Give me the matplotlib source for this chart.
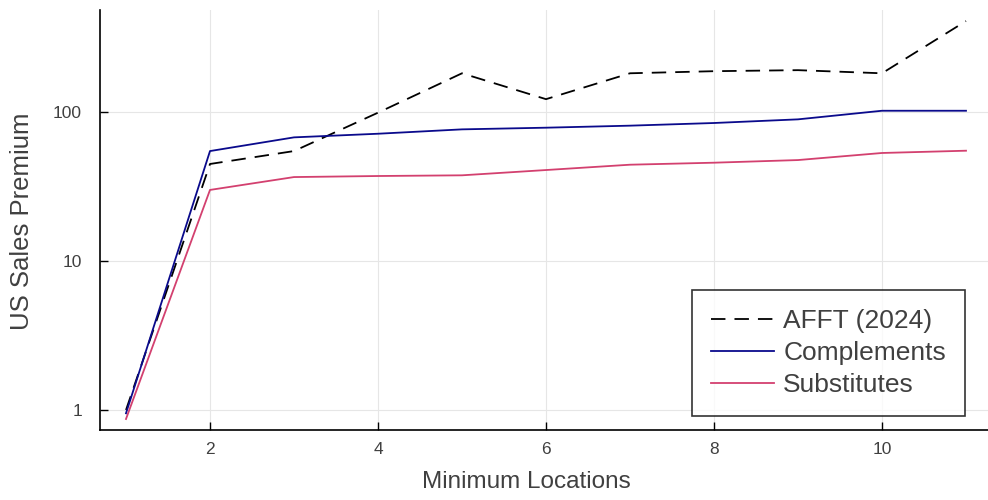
import matplotlib
matplotlib.use("Agg")
import matplotlib.pyplot as plt
from matplotlib.ticker import FixedLocator, NullLocator

plt.rcParams['font.family'] = ['Liberation Sans', 'DejaVu Sans']

locations = [1, 2, 3, 4, 5, 6, 7, 8, 9, 10, 11]
afft = [1.0, 44.8, 54.7, 99, 182, 122, 182, 188, 191, 182, 408]
complements = [0.95, 54.7, 67.6, 71.5, 76.5, 78.5, 81, 84.4, 89.3, 102, 102]
substitutes = [0.87, 30, 36.6, 37.2, 37.6, 40.8, 44.3, 45.7, 47.6, 53.1, 55.0]

ytick_vals = [1, 10, 100]
ytick_labels = ["1", "10", "100"]
xtick_vals = [2, 4, 6, 8, 10]

fig = plt.figure(figsize=(9.88, 5.0), dpi=100)
ax = fig.add_axes([100 / 988, 70 / 500, 888 / 988, 420 / 500])

ax.plot(locations, afft, color='black', linestyle=(0, (8, 5)), lw=1.3, label='AFFT (2024)')
ax.plot(locations, complements, color='#0a0a8c', lw=1.3, label='Complements')
ax.plot(locations, substitutes, color='#d3406f', lw=1.3, label='Substitutes')

ax.set_yscale('log')
ax.set_xlim(0.6905, 11.262)
ax.set_ylim(0.734, 484)
ax.yaxis.set_major_locator(FixedLocator(ytick_vals))
ax.set_yticklabels(ytick_labels)
ax.yaxis.set_minor_locator(NullLocator())
ax.set_xticks(xtick_vals)

for s in ['top', 'right']:
    ax.spines[s].set_visible(False)
for s in ['left', 'bottom']:
    ax.spines[s].set_linewidth(1.2)

ax.grid(True, color='#e6e6e6', lw=0.8)
ax.set_axisbelow(True)
ax.tick_params(axis='y', direction='in', length=6, width=1, labelsize=12.5,
               colors='black', labelcolor='#404040', pad=13)
ax.tick_params(axis='x', direction='in', length=6, width=1, labelsize=12.5,
               colors='black', labelcolor='#404040', pad=9)

ax.set_xlabel('Minimum Locations', fontsize=17.5, color='#404040')
ax.xaxis.label.set_va('center')
ax.xaxis.set_label_coords(0.48, -0.124)
ax.set_ylabel('US Sales Premium', fontsize=18.5, color='#404040')
ax.yaxis.label.set_va('center')
ax.yaxis.set_label_coords(-0.0878, 0.4976)

leg = ax.legend(loc='lower right', fontsize=19, frameon=True, fancybox=False,
                edgecolor='black', handlelength=2.4, handletextpad=0.34,
                labelspacing=0.3, borderpad=0.72, borderaxespad=0,
                bbox_to_anchor=(0.974, 0.0333))
leg.get_frame().set_linewidth(1.2)
for t in leg.get_texts():
    t.set_color('#404040')

fig.savefig('out.png', dpi=100)
